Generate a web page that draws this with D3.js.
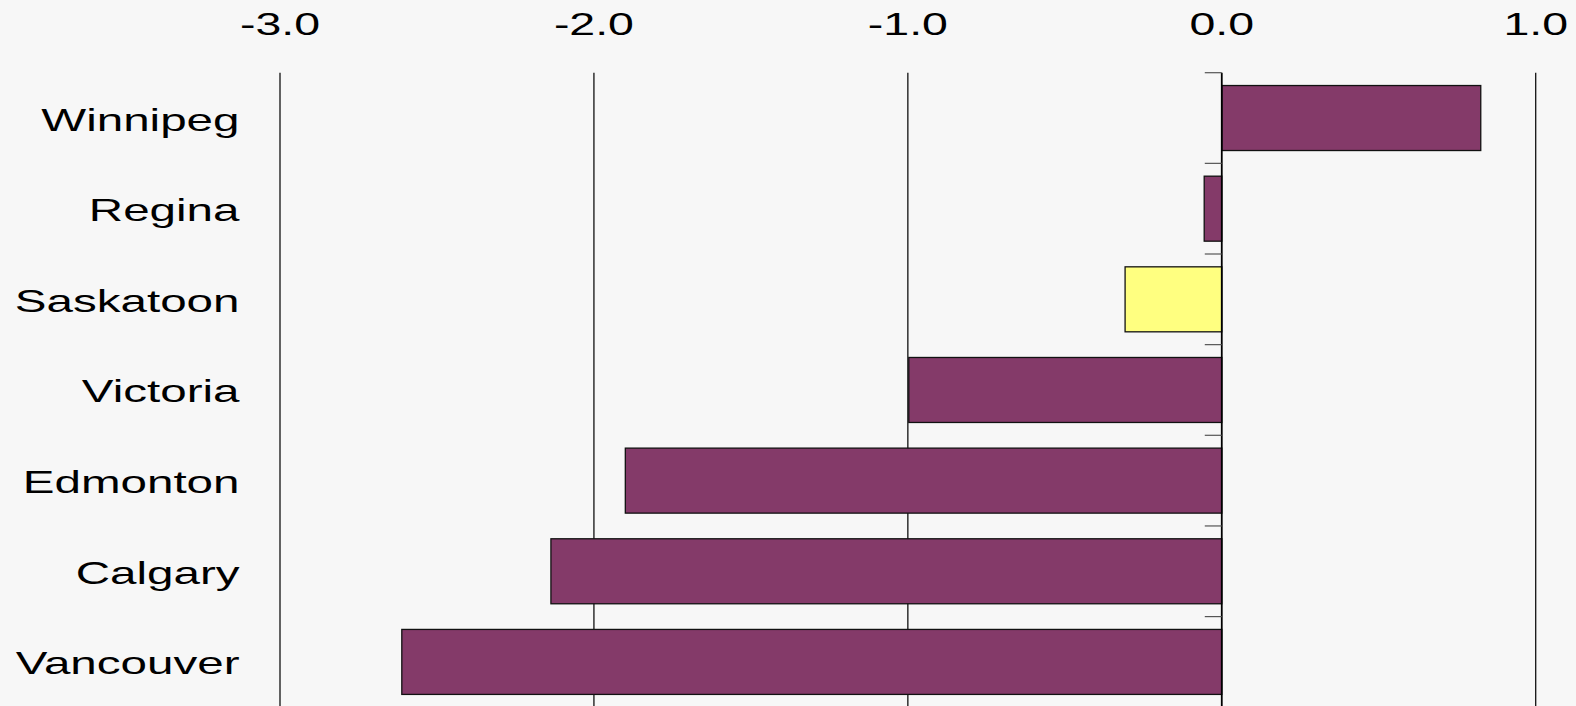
<!DOCTYPE html>
<html>
<head>
<meta charset="utf-8">
<script src="https://cdn.jsdelivr.net/npm/d3@7"></script>
<style>
html,body{margin:0;padding:0;background:#f7f7f7;}
svg{display:block;}
text{font-family:"Liberation Sans",Arial,sans-serif;fill:#000;}
</style>
</head>
<body>
<svg id="chart" width="1576" height="706"></svg>
<script>
const categories = ["Winnipeg","Regina","Saskatoon","Victoria","Edmonton","Calgary","Vancouver"];
const values = [0.825, -0.056, -0.308, -0.997, -1.90, -2.137, -2.612];
const highlight = ["Saskatoon"];
const tickValues = [-3, -2, -1, 0, 1];
const tickLabels = ["-3.0","-2.0","-1.0","0.0","1.0"];

const W = 1576, H = 706;
const svg = d3.select("#chart");
svg.append("rect").attr("width",W).attr("height",H).attr("fill","#f7f7f7");

const x = d3.scaleLinear().domain([-3, 1]).range([280, 1535.7]);
const y = d3.scaleBand().domain(categories).range([72.7, 72.7 + 7*90.65])
  .paddingInner(0.283).paddingOuter(0.1415);
const sxTick = 1.5;
const sxCat = 1.51;

// gridlines
svg.append("g").selectAll("line").data(tickValues.filter(v => v !== 0)).join("line")
  .attr("x1", d => x(d)).attr("x2", d => x(d))
  .attr("y1", 72.7).attr("y2", H)
  .attr("stroke", "#111").attr("stroke-width", 1.3);

// top tick labels
svg.append("g").selectAll("text").data(tickValues).join("text")
  .attr("transform", d => `translate(${x(d)},35) scale(${sxTick},1)`)
  .attr("text-anchor", "middle")
  .attr("font-size", 31)
  .text((d, i) => tickLabels[i]);

// bars
svg.append("g").selectAll("rect").data(categories).join("rect")
  .attr("x", (d, i) => x(Math.min(0, values[i])))
  .attr("width", (d, i) => Math.abs(x(values[i]) - x(0)))
  .attr("y", d => y(d))
  .attr("height", y.bandwidth())
  .attr("fill", d => highlight.includes(d) ? "#ffff80" : "#843a69")
  .attr("stroke", "#111").attr("stroke-width", 1.3);

// zero axis line
svg.append("line")
  .attr("x1", x(0)).attr("x2", x(0))
  .attr("y1", 72.7).attr("y2", H)
  .attr("stroke", "#000").attr("stroke-width", 1.8);

// category boundary ticks
const step = y.step();
const bounds = categories.map((d, i) => y.range()[0] + i*step);
svg.append("g").selectAll("line").data(bounds).join("line")
  .attr("x1", x(0) - 17).attr("x2", x(0))
  .attr("y1", d => d).attr("y2", d => d)
  .attr("stroke", "#555").attr("stroke-width", 1.2);

// category labels
svg.append("g").selectAll("text").data(categories).join("text")
  .attr("transform", d => `translate(239.5,${y(d) + y.bandwidth()/2 + 12.5}) scale(${sxCat},1)`)
  .attr("text-anchor", "end")
  .attr("font-size", 31.5)
  .text(d => d);
</script>
</body>
</html>
